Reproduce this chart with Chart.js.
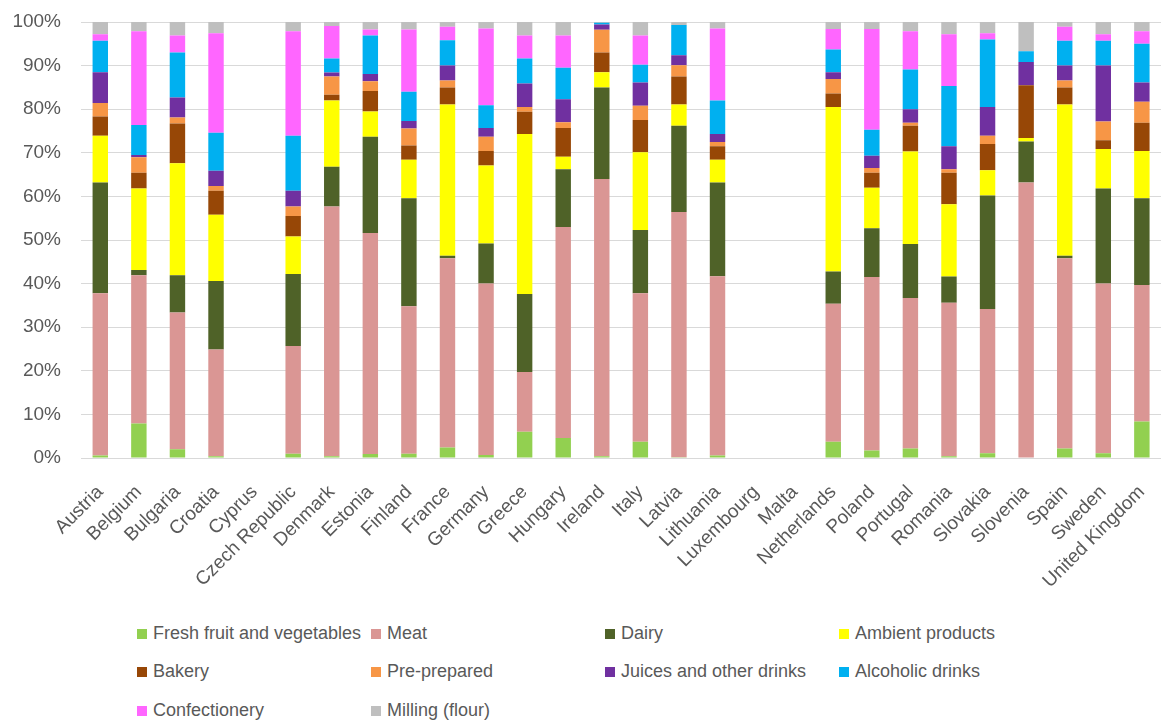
<!DOCTYPE html>
<html>
<head>
<meta charset="utf-8">
<script src="https://cdn.jsdelivr.net/npm/chart.js@4.4.1/dist/chart.umd.min.js"></script>
<style>
  body { margin: 0; background: #fff; }
  #wrap { position: relative; width: 1161px; height: 722px; overflow: hidden; }
  #salesChart { position: absolute; left: 0; top: 0; }
  .legend-item {
    position: absolute;
    font: 18px "Liberation Sans", Arial, sans-serif;
    color: #595959;
    line-height: 22px;
    white-space: nowrap;
  }
  .legend-item span {
    display: inline-block;
    width: 10px;
    height: 10px;
    margin-right: 6px;
    vertical-align: 0px;
  }
</style>
</head>
<body>
<div id="wrap">
  <canvas id="salesChart" width="1173" height="600"></canvas>
  <div id="legend"></div>
</div>
<script>
const countries = [
  "Austria", "Belgium", "Bulgaria", "Croatia", "Cyprus", "Czech Republic",
  "Denmark", "Estonia", "Finland", "France", "Germany", "Greece", "Hungary",
  "Ireland", "Italy", "Latvia", "Lithuania", "Luxembourg", "Malta",
  "Netherlands", "Poland", "Portugal", "Romania", "Slovakia", "Slovenia",
  "Spain", "Sweden", "United Kingdom",
];

// share of each product group, % (no data for Cyprus, Luxembourg, Malta)
const freshFruitVeg = [0.6, 7.9, 2.0, 0.4, null, 1.0, 0.4, 0.9, 1.0, 2.4, 0.7, 6.0, 4.6, 0.4, 3.7, 0.2, 0.6, null, null, 3.7, 1.7, 2.2, 0.4, 1.1, 0, 2.2, 1.1, 8.4];
const meat = [37.2, 34.0, 31.4, 24.5, null, 24.7, 57.3, 50.7, 33.8, 43.4, 39.3, 13.7, 48.4, 63.6, 34.1, 56.2, 41.1, null, null, 31.7, 39.8, 34.5, 35.2, 33.1, 63.2, 43.6, 38.9, 31.3];
const dairy = [25.4, 1.2, 8.5, 15.7, null, 16.5, 9.1, 22.1, 24.8, 0.6, 9.2, 17.9, 13.2, 21.0, 14.5, 19.8, 21.5, null, null, 7.4, 11.2, 12.4, 6.0, 26.0, 9.4, 0.6, 21.8, 19.9];
const ambient = [10.7, 18.7, 25.7, 15.2, null, 8.6, 15.2, 5.8, 8.8, 34.7, 17.9, 36.7, 2.9, 3.5, 17.8, 4.9, 5.2, null, null, 37.7, 9.3, 21.2, 16.6, 5.8, 0.8, 34.7, 9.1, 10.8];
const bakery = [4.4, 3.6, 9.1, 5.5, null, 4.7, 1.3, 4.7, 3.3, 3.9, 3.3, 5.1, 6.6, 4.5, 7.4, 6.4, 3.1, null, null, 3.1, 3.4, 5.9, 7.2, 6.0, 12.1, 3.9, 2.0, 6.5];
const prePrepared = [3.1, 3.6, 1.4, 1.1, null, 2.2, 4.2, 2.2, 3.9, 1.6, 3.3, 1.1, 1.3, 5.2, 3.3, 2.6, 1.0, null, null, 3.3, 1.1, 0.7, 0.8, 1.9, 0, 1.6, 4.3, 4.8];
const juices = [7.1, 0.5, 4.6, 3.5, null, 3.6, 0.9, 1.7, 1.7, 3.4, 2.0, 5.4, 5.3, 1.2, 5.3, 2.3, 1.8, null, null, 1.6, 2.8, 3.1, 5.3, 6.6, 5.3, 3.4, 12.8, 4.4];
const alcoholic = [7.2, 6.9, 10.3, 8.7, null, 12.6, 3.2, 8.8, 6.7, 5.8, 5.2, 5.7, 7.2, 0.4, 4.1, 6.9, 7.7, null, null, 5.2, 6.0, 9.1, 13.8, 15.5, 2.5, 5.7, 5.7, 8.9];
const confectionery = [1.5, 21.5, 3.9, 22.8, null, 24.0, 7.5, 1.4, 14.3, 3.1, 17.6, 5.3, 7.4, 0, 6.7, 0, 16.5, null, null, 4.7, 23.1, 8.8, 11.9, 1.4, 0, 3.2, 1.5, 2.9];
const milling = [2.8, 2.1, 3.1, 2.6, null, 2.1, 0.9, 1.7, 1.7, 1.1, 1.5, 3.1, 3.1, 0.2, 3.1, 0.7, 1.5, null, null, 1.6, 1.6, 2.1, 2.8, 2.6, 6.7, 1.1, 2.8, 2.1];

const yTicks = [0, 10, 20, 30, 40, 50, 60, 70, 80, 90, 100];

const series = [
  { label: "Fresh fruit and vegetables", data: freshFruitVeg, color: "#92D050" },
  { label: "Meat", data: meat, color: "#DA9694" },
  { label: "Dairy", data: dairy, color: "#4F6228" },
  { label: "Ambient products", data: ambient, color: "#FFFF00" },
  { label: "Bakery", data: bakery, color: "#974706" },
  { label: "Pre-prepared", data: prePrepared, color: "#F79646" },
  { label: "Juices and other drinks", data: juices, color: "#7030A0" },
  { label: "Alcoholic drinks", data: alcoholic, color: "#00B0F0" },
  { label: "Confectionery", data: confectionery, color: "#FF66FF" },
  { label: "Milling (flour)", data: milling, color: "#BFBFBF" },
];

const font = { family: "'Liberation Sans', Arial, sans-serif", size: 19 };
const ctx = document.getElementById("salesChart").getContext("2d");

const salesChart = new Chart(ctx, {
  type: "bar",
  data: {
    labels: countries,
    datasets: series.map((s) => ({
      label: s.label,
      data: s.data,
      backgroundColor: s.color,
      borderWidth: 0,
      barPercentage: 0.4,
      categoryPercentage: 1,
    })),
  },
  options: {
    responsive: false,
    animation: false,
    layout: { padding: { top: 22, right: 1, left: 0, bottom: 0 } },
    plugins: {
      legend: { display: false },
      tooltip: { enabled: false },
    },
    scales: {
      x: {
        stacked: true,
        grid: { display: false },
        border: { display: false },
        ticks: {
          color: "#595959",
          font: font,
          autoSkip: false,
          minRotation: 45,
          maxRotation: 45,
          padding: 15,
        },
        afterFit: (scale) => {
          scale.height = 142;
        },
      },
      y: {
        stacked: true,
        min: 0,
        max: 100,
        afterBuildTicks: (scale) => {
          scale.ticks = yTicks.map((v) => ({ value: v }));
        },
        grid: { color: "#D9D9D9", drawTicks: false },
        border: { display: false },
        ticks: {
          color: "#595959",
          font: font,
          padding: 20,
          callback: (v) => v + "%",
        },
        afterFit: (scale) => {
          // tick padding would otherwise also push the plot top down
          scale.width = 81;
          scale.paddingTop = 0;
          scale.paddingBottom = 0;
        },
      },
    },
  },
});

// legend in four columns under the chart
const legendBox = document.getElementById("legend");
const rowTops = [622, 660, 699];
salesChart.data.datasets.forEach((ds, i) => {
  const item = document.createElement("div");
  item.className = "legend-item";
  item.style.left = 137 + (i % 4) * 234 + "px";
  item.style.top = rowTops[Math.floor(i / 4)] + "px";
  item.innerHTML = '<span style="background:' + ds.backgroundColor + '"></span>' + ds.label;
  legendBox.appendChild(item);
});
</script>
</body>
</html>
